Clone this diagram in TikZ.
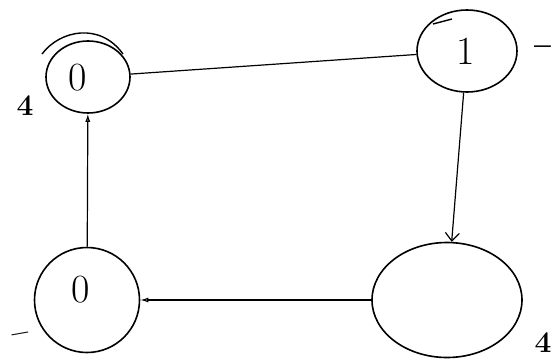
\documentclass[tikz,border=0pt]{standalone}
\usetikzlibrary{shapes.geometric,arrows.meta}
\begin{document}
\begin{tikzpicture}[x=1pt,y=-1pt,
  state/.style={draw,ellipse,line width=1.6pt,inner sep=0pt},
  digit/.style={font=\fontsize{40}{42}\selectfont,inner sep=0pt},
  conn/.style={line width=1.2pt},
  looptip/.style={-{Latex[open,length=8pt,width=5pt,line width=1.2pt]}},
  barbtip/.style={-{Straight Barb[length=8pt,width=14pt,line width=1.2pt]}},
  sidelabel/.style={font=\fontsize{30}{32}\selectfont\bfseries},
  dashlabel/.style={font=\fontsize{30}{32}\selectfont\bfseries,inner sep=0pt,yscale=-1.6,transform shape}]
\useasboundingbox (0,0) rectangle (557,364);
\node[state,minimum width=84pt,minimum height=72pt] (a) at (88,77) {};
\node[state,minimum width=100pt,minimum height=82pt] (b) at (467,51) {};
\node[state,minimum width=105pt,minimum height=105pt] (c) at (87,300) {};
\node[state,minimum width=150pt,minimum height=115pt] (d) at (447,300) {};
\node[digit] (ta) at (78,78) {0};
\node[digit] (tb) at (466,51) {1};
\node[digit] (tc) at (81,290) {0};
\draw[line width=1.4pt] (42,54) .. controls (60,30) and (100,22) .. (123,54);
\draw[line width=1.4pt] (433,24) -- (452,19);
\draw[conn] (a) -- (b);
\draw[conn,barbtip] (b) -- (d);
\draw[conn,looptip] (c) -- (a);
\draw[conn,looptip] (d) -- (c);
\node[sidelabel] (la) at (25,106) {4};
\node[dashlabel] (lb) at (543,40) {--};
\node[sidelabel,inner sep=0pt,rotate=10] (lc) at (21,338) {--};
\node[sidelabel] (ld) at (543,343) {4};
\end{tikzpicture}
\end{document}
